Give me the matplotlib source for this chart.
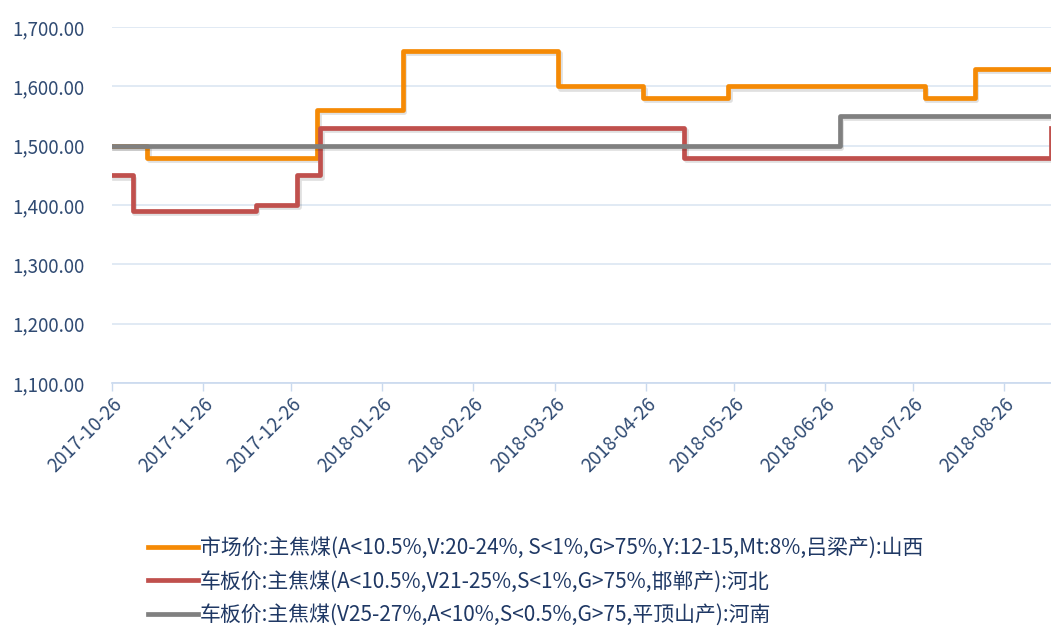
import matplotlib.pyplot as plt
import matplotlib.dates as mdates
import matplotlib.patheffects as pe
from matplotlib.ticker import FuncFormatter
import numpy as np
import pandas as pd

plt.rcParams['font.family'] = ['Noto Sans CJK SC', 'DejaVu Sans']

# price change dates and levels (step series)
shanxi_dates = ['2017-10-26', '2017-11-07', '2018-01-04', '2018-02-02', '2018-03-27',
                '2018-04-25', '2018-05-24', '2018-07-30', '2018-08-16', '2018-09-11']
shanxi_vals = [1500, 1480, 1560, 1660, 1600, 1580, 1600, 1580, 1630, 1630]

hebei_dates = ['2017-10-26', '2017-11-02', '2017-12-14', '2017-12-28', '2018-01-05',
               '2018-05-09', '2018-09-11']
hebei_vals = [1450, 1390, 1400, 1450, 1530, 1480, 1530]

henan_dates = ['2017-10-26', '2018-07-01', '2018-09-11']
henan_vals = [1500, 1550, 1550]

labels = ['市场价:主焦煤(A<10.5%,V:20-24%, S<1%,G>75%,Y:12-15,Mt:8%,吕梁产):山西',
          '车板价:主焦煤(A<10.5%,V21-25%,S<1%,G>75%,邯郸产):河北',
          '车板价:主焦煤(V25-27%,A<10%,S<0.5%,G>75,平顶山产):河南']
colors = ['#F58A05', '#C0504D', '#808080']

tick_dates = ['2017-10-26', '2017-11-26', '2017-12-26', '2018-01-26', '2018-02-26',
              '2018-03-26', '2018-04-26', '2018-05-26', '2018-06-26', '2018-07-26',
              '2018-08-26']

fig = plt.figure(figsize=(10.51, 6.31), dpi=100)
ax = fig.add_axes([0.1066, 0.393, 0.8934, 0.564])

series = [(shanxi_dates, shanxi_vals), (hebei_dates, hebei_vals), (henan_dates, henan_vals)]
shadow = [pe.SimpleLineShadow(offset=(1.2, -1.5), shadow_color='#000000', alpha=0.12),
          pe.Normal()]
handles = []
for (d, v), c, lab in zip(series, colors, labels):
    line, = ax.plot(pd.to_datetime(d), v, drawstyle='steps-post', color=c, lw=3.4,
                    label=lab, path_effects=shadow, solid_joinstyle='round')
    handles.append(line)
# gray on top of the other two where they overlap
handles[2].set_zorder(3)

ax.set_ylim(1100, 1700)
ax.set_yticks(np.arange(1100, 1701, 100))
ax.yaxis.set_major_formatter(FuncFormatter(lambda y, p: f'{y:,.2f}'))
ax.set_xlim(pd.Timestamp('2017-10-26'), pd.Timestamp('2018-09-11'))
ax.set_xticks(pd.to_datetime(tick_dates))
ax.xaxis.set_major_formatter(mdates.DateFormatter('%Y-%m-%d'))

ax.grid(axis='y', color='#DCE6F2', lw=1.2)
ax.set_axisbelow(True)
for s in ['top', 'right', 'left']:
    ax.spines[s].set_visible(False)
ax.spines['bottom'].set_color('#C9D9EE')
ax.spines['bottom'].set_linewidth(1.2)
ax.tick_params(axis='y', length=0, pad=20, labelsize=13.5, labelcolor='#2F4A72')
ax.tick_params(axis='x', length=6, width=1, color='#C9D9EE', labelsize=13.5,
               labelcolor='#2F4A72', pad=2)
for t in ax.get_xticklabels():
    t.set_rotation(45)
    t.set_ha('right')
    t.set_rotation_mode('anchor')

leg = fig.legend(handles=handles, loc='upper left', bbox_to_anchor=(0.133, 0.162),
                 frameon=False, fontsize=15, handlelength=2.4, handletextpad=0.1,
                 labelspacing=0.55, borderaxespad=0, labelcolor='#1F3864')
for h in leg.get_lines():
    h.set_path_effects([])
    h.set_linewidth(3.4)

fig.savefig('out.png', dpi=100)
